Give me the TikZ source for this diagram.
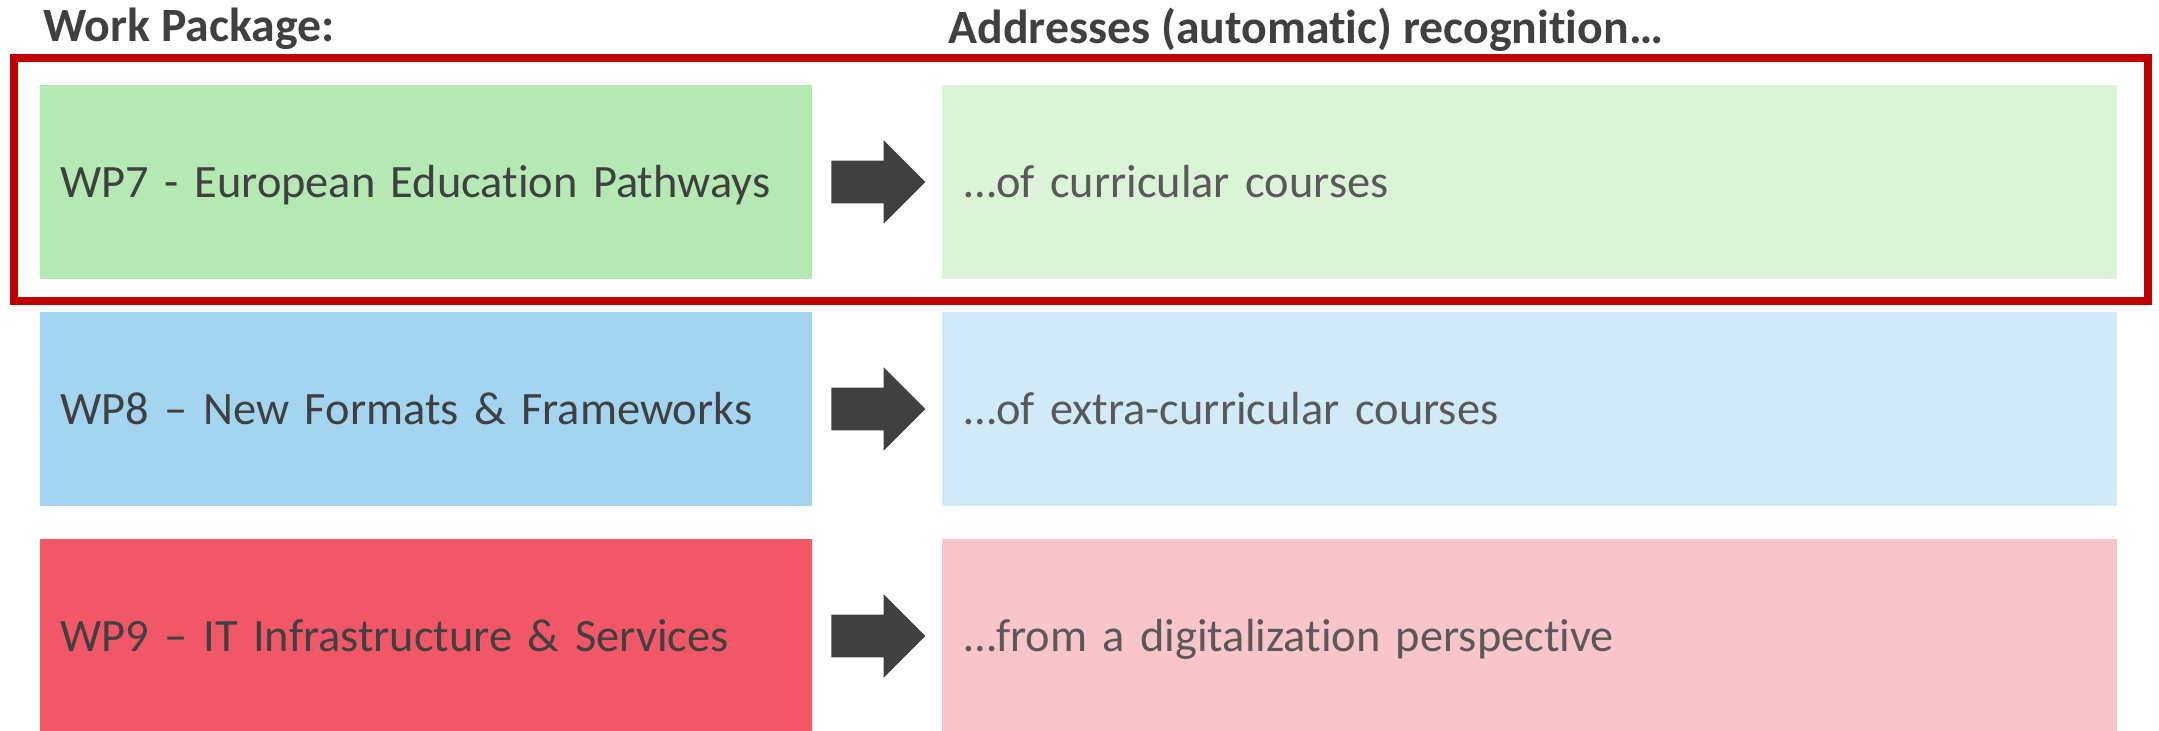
\documentclass[tikz,border=0pt]{standalone}
\usepackage{fontspec}
\setmainfont{Carlito}[Ligatures=NoCommon]
\usepackage{tikz}
\usetikzlibrary{shapes.arrows}

\definecolor{greendark}{HTML}{B5E9B3}
\definecolor{greenlight}{HTML}{DBF4D8}
\definecolor{bluedark}{HTML}{A3D4F0}
\definecolor{bluelight}{HTML}{D0EAF8}
\definecolor{reddark}{HTML}{F25767}
\definecolor{redlight}{HTML}{F9C4CA}
\definecolor{framered}{HTML}{C00000}
\definecolor{arrowgray}{HTML}{404040}
\definecolor{textdark}{HTML}{404040}
\definecolor{textlight}{HTML}{595959}

\tikzset{
  wpbox/.style={rectangle,minimum width=386pt,minimum height=97pt,inner xsep=10.3pt,
    text width=365.4pt,align=left,text height=21pt,text depth=6pt,text=textdark,
    font=\fontsize{23.2}{28}\selectfont},
  recbox/.style={wpbox,minimum width=587.5pt,inner xsep=11pt,text width=565.5pt,text=textlight},
  wparrow/.style={single arrow,fill=arrowgray,inner xsep=0pt,inner ysep=10.5pt,
    minimum height=47pt,minimum width=41.5pt,single arrow head extend=10.25pt,anchor=tail},
  headtext/.style={anchor=base west,inner sep=0pt,text=textdark,
    font=\bfseries\fontsize{23.9}{28}\selectfont}
}

\begin{document}
\begin{tikzpicture}[x=0.5pt,y=-0.5pt]
     \useasboundingbox (0,0) rectangle (2159,730);
     \node[headtext] (headwp)  at (43,41.7) {Work Package:}; % Spaltenkopf links
     \node[headtext] (headrec) at (948,43)  {Addresses (automatic) recognition…}; % Spaltenkopf rechts

     \foreach \n/\y/\dk/\lt/\wptext/\rectext in {
        7/182/greendark/greenlight/{WP7 - European Education Pathways}/{…of curricular courses},
        8/409/bluedark/bluelight/{WP8 – New Formats \& Frameworks}/{…of extra-curricular courses},
        9/636/reddark/redlight/{WP9 – IT Infrastructure \& Services}/{…from a digitalization perspective}}
     {
     \node[wpbox,fill=\dk]  (wp\n)  at (426,\y)    {\wptext}; % Arbeitspaket
     \node[recbox,fill=\lt] (rec\n) at (1529.5,\y) {\rectext}; % Erkennung
     \node[wparrow]         (arr\n) at (831,\y)    {}; % Pfeil
     }

     \draw[line width=4pt,color=framered] (13.8,57.5) rectangle (2148,301); % Rahmen um WP7
\end{tikzpicture}
\end{document}
